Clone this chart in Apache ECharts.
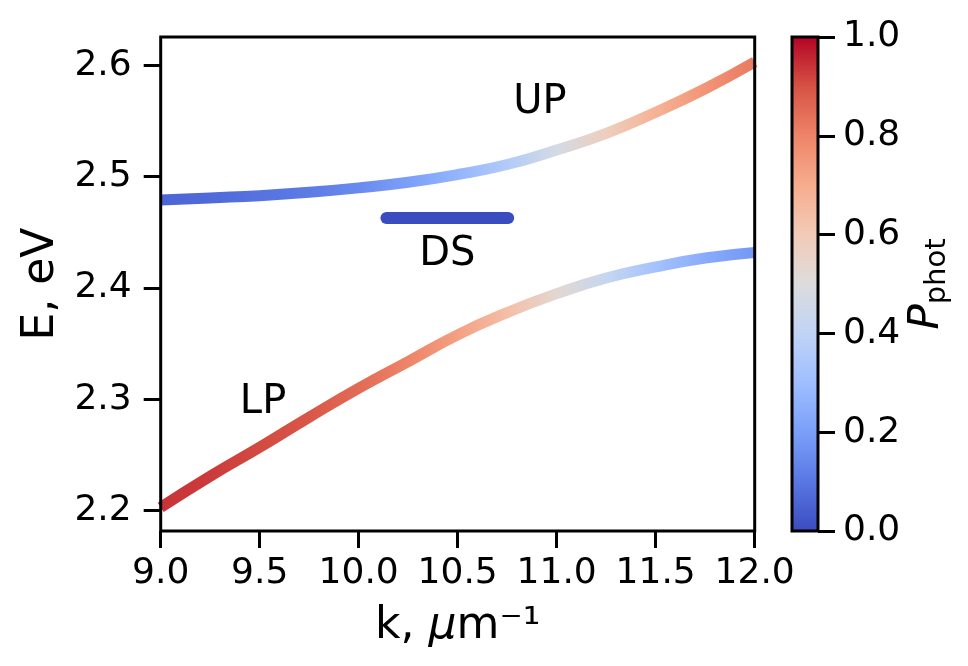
<!DOCTYPE html>
<html>
<head>
<meta charset="utf-8">
<script src="https://cdn.jsdelivr.net/npm/echarts@6/dist/echarts.min.js"></script>
<style>
  html, body { margin: 0; padding: 0; background: #ffffff; }
  #chart { width: 968px; height: 666px; }
</style>
</head>
<body>
<div id="chart"></div>
<script>
// Polariton dispersion: energies (eV) and photon fraction vs in-plane wavevector (µm^-1)
const kGrid = [9.0, 9.25, 9.5, 9.75, 10.0, 10.25, 10.5, 10.75, 11.0, 11.25, 11.5, 11.75, 12.0];
const upE   = [2.479, 2.481, 2.483, 2.486, 2.490, 2.495, 2.502, 2.511, 2.524, 2.539, 2.558, 2.579, 2.603];
const upP   = [0.06, 0.07, 0.09, 0.11, 0.15, 0.20, 0.27, 0.36, 0.47, 0.58, 0.68, 0.76, 0.82];
const lpE   = [2.203, 2.231, 2.257, 2.284, 2.310, 2.334, 2.358, 2.378, 2.395, 2.409, 2.419, 2.427, 2.432];
const lpP   = [0.94, 0.93, 0.91, 0.89, 0.85, 0.80, 0.73, 0.64, 0.53, 0.42, 0.32, 0.24, 0.18];

// Dark states: flat band at the exciton energy
const dsK = [10.14, 10.755];
const dsE = [2.463, 2.463];
const dsP = [0.0, 0.0];

// Branch annotations (data coordinates)
const branchNames  = ['UP', 'DS', 'LP'];
const branchLabelK = [10.915, 10.448, 9.517];
const branchLabelE = [2.567, 2.430, 2.297];

// Tick values
const xTicks  = [9.0, 9.5, 10.0, 10.5, 11.0, 11.5, 12.0];
const yTicks  = [2.2, 2.3, 2.4, 2.5, 2.6];
const cbTicks = [0.0, 0.2, 0.4, 0.6, 0.8, 1.0];

// coolwarm colormap, sampled at 0.0, 0.1, ..., 1.0
const COOLWARM = ['#3b4cc0', '#5977e3', '#7b9ff9', '#9ebeff', '#c0d4f5', '#dddcdc',
                  '#f2cbb7', '#f7ac8e', '#ee8468', '#d65244', '#b40426'];

function hexToRgb(h) {
  return [parseInt(h.slice(1, 3), 16), parseInt(h.slice(3, 5), 16), parseInt(h.slice(5, 7), 16)];
}
function coolwarm(p) {
  const t = Math.max(0, Math.min(1, p)) * (COOLWARM.length - 1);
  const i = Math.min(COOLWARM.length - 2, Math.floor(t));
  const f = t - i;
  const a = hexToRgb(COOLWARM[i]), b = hexToRgb(COOLWARM[i + 1]);
  const c = a.map((v, j) => Math.round(v + (b[j] - v) * f));
  return 'rgb(' + c.join(',') + ')';
}

const FONT = 'DejaVu Sans';
const BLACK = '#000000';
const TICK_FONT = 36;

const chart = echarts.init(document.getElementById('chart'), null, { renderer: 'canvas' });

const cbStops = COOLWARM.map((c, i) => ({ offset: i / (COOLWARM.length - 1), color: c }));

const option = {
  backgroundColor: '#ffffff',
  animation: false,
  grid: [
    { left: 160.7, top: 37, width: 594, height: 494, show: true, z: 10,
      backgroundColor: 'transparent', borderColor: BLACK, borderWidth: 3 },
    { left: 792, top: 37, width: 26, height: 494, show: true, z: 10,
      backgroundColor: 'transparent', borderColor: BLACK, borderWidth: 3 }
  ],
  visualMap: [
    { type: 'continuous', show: false, seriesIndex: 0, dimension: 0,
      min: kGrid[0], max: kGrid[kGrid.length - 1], inRange: { color: upP.map(coolwarm) } },
    { type: 'continuous', show: false, seriesIndex: 1, dimension: 0,
      min: kGrid[0], max: kGrid[kGrid.length - 1], inRange: { color: lpP.map(coolwarm) } }
  ],
  xAxis: [
    {
      gridIndex: 0, type: 'value', min: 9, max: 12,
      axisLine: { show: false },
      splitLine: { show: false },
      axisTick: { show: true, customValues: xTicks, length: 17, lineStyle: { color: BLACK, width: 3 } },
      axisLabel: { customValues: xTicks, margin: 25, color: BLACK, fontFamily: FONT, fontSize: TICK_FONT,
                   formatter: v => v.toFixed(1) },
      name: '{n|k, }{i|μ}{n|m⁻¹}',
      nameLocation: 'middle', nameGap: 68,
      nameTextStyle: {
        rich: {
          n: { fontFamily: FONT, fontSize: 44, lineHeight: 44, color: BLACK, padding: [8, 0, 0, 0] },
          i: { fontFamily: FONT, fontSize: 44, lineHeight: 44, color: BLACK, fontStyle: 'italic', padding: [8, 0, 0, 0] }
        }
      }
    },
    { gridIndex: 1, type: 'category', data: ['c'], show: false }
  ],
  yAxis: [
    {
      gridIndex: 0, type: 'value', min: 2.1818, max: 2.6255,
      axisLine: { show: false },
      splitLine: { show: false },
      axisTick: { show: true, customValues: yTicks, length: 17, lineStyle: { color: BLACK, width: 3 } },
      axisLabel: { customValues: yTicks, margin: 29, color: BLACK, fontFamily: FONT, fontSize: TICK_FONT,
                   formatter: v => v.toFixed(1) },
      name: 'E, eV',
      nameLocation: 'middle', nameGap: 94, nameRotate: 90,
      nameTextStyle: { fontFamily: FONT, fontSize: 44, lineHeight: 44, color: BLACK }
    },
    {
      gridIndex: 1, type: 'value', min: 0, max: 1, position: 'right',
      axisLine: { show: false },
      splitLine: { show: false },
      axisTick: { show: true, customValues: cbTicks, length: 17, lineStyle: { color: BLACK, width: 3 } },
      axisLabel: { customValues: cbTicks, margin: 25, color: BLACK, fontFamily: FONT, fontSize: TICK_FONT,
                   formatter: v => v.toFixed(1) },
      name: '{p|P}{s|phot}',
      nameLocation: 'middle', nameGap: 92, nameRotate: 90,
      nameTextStyle: {
        rich: {
          p: { fontFamily: FONT, fontSize: 42, lineHeight: 42, color: BLACK, fontStyle: 'italic', verticalAlign: 'bottom', padding: [0, 0, 4, 0] },
          s: { fontFamily: FONT, fontSize: 29, lineHeight: 29, color: BLACK, verticalAlign: 'bottom' }
        }
      }
    }
  ],
  series: [
    {
      name: 'UP', type: 'line', xAxisIndex: 0, yAxisIndex: 0,
      data: kGrid.map((k, i) => [k, upE[i], upP[i]]),
      smooth: true, showSymbol: false, clip: true, z: 3,
      lineStyle: { width: 11, cap: 'butt' }
    },
    {
      name: 'LP', type: 'line', xAxisIndex: 0, yAxisIndex: 0,
      data: kGrid.map((k, i) => [k, lpE[i], lpP[i]]),
      smooth: true, showSymbol: false, clip: true, z: 3,
      lineStyle: { width: 11, cap: 'butt' }
    },
    {
      name: 'DS', type: 'line', xAxisIndex: 0, yAxisIndex: 0,
      data: dsK.map((k, i) => [k, dsE[i], dsP[i]]),
      showSymbol: false, clip: true, z: 3,
      lineStyle: { width: 12, cap: 'round', color: coolwarm(dsP[0]) }
    },
    {
      name: 'labels', type: 'scatter', xAxisIndex: 0, yAxisIndex: 0,
      data: branchNames.map((n, i) => ({ name: n, value: [branchLabelK[i], branchLabelE[i]] })),
      symbolSize: 0, z: 4, silent: true,
      itemStyle: { opacity: 1, color: BLACK },
      label: { show: true, position: 'inside', formatter: p => p.name,
               fontFamily: FONT, fontSize: 40, color: BLACK, opacity: 1,
               textBorderWidth: 0 }
    },
    {
      name: 'colorbar', type: 'bar', xAxisIndex: 1, yAxisIndex: 1,
      data: [1], barWidth: '100%', z: 1, silent: true,
      itemStyle: { color: new echarts.graphic.LinearGradient(0, 1, 0, 0, cbStops) }
    }
  ]
};

chart.setOption(option);
</script>
</body>
</html>
